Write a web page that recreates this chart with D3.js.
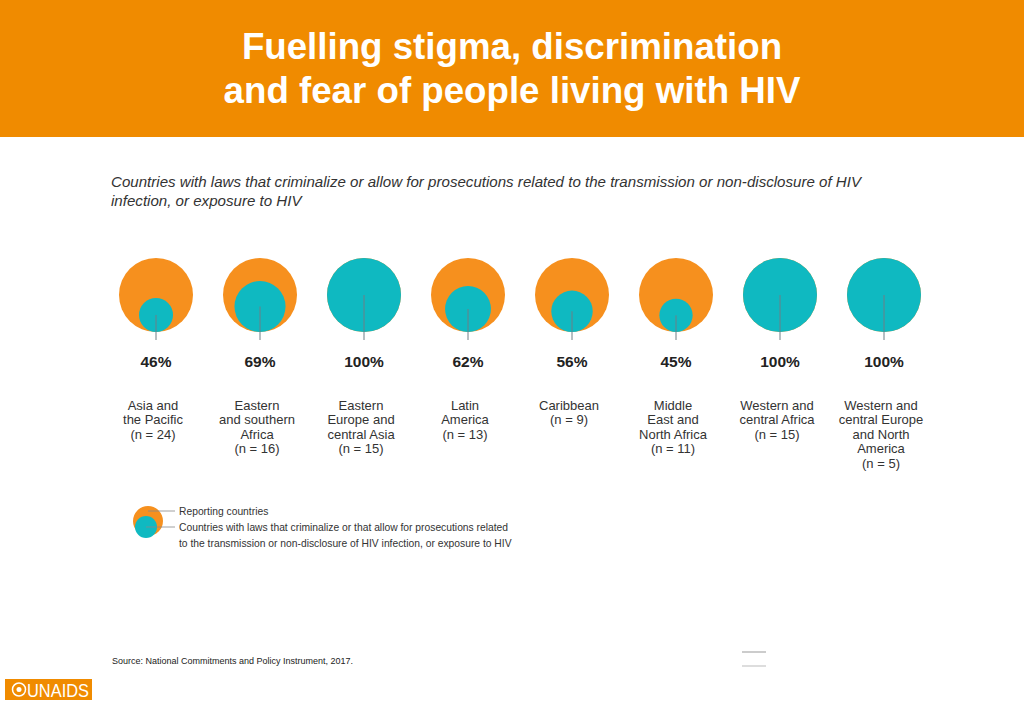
<!DOCTYPE html>
<html>
<head>
<meta charset="utf-8">
<script src="https://cdn.jsdelivr.net/npm/d3@7"></script>
<style>
  html, body { margin: 0; padding: 0; background: #fff; }
  svg { display: block; }
  text { font-family: "Liberation Sans", Arial, sans-serif; }
</style>
</head>
<body>
<svg id="chart" width="1024" height="709"></svg>
<script>
// ---- data ----
const titleLines = ["Fuelling stigma, discrimination", "and fear of people living with HIV"];
const subtitleLines = [
  "Countries with laws that criminalize or allow for prosecutions related to the transmission or non-disclosure of HIV",
  "infection, or exposure to HIV"
];
const regions = [
  ["Asia and", "the Pacific", "(n = 24)"],
  ["Eastern", "and southern", "Africa", "(n = 16)"],
  ["Eastern", "Europe and", "central Asia", "(n = 15)"],
  ["Latin", "America", "(n = 13)"],
  ["Caribbean", "(n = 9)"],
  ["Middle", "East and", "North Africa", "(n = 11)"],
  ["Western and", "central Africa", "(n = 15)"],
  ["Western and", "central Europe", "and North", "America", "(n = 5)"]
];
const regionKeys = ["AP", "ESA", "EECA", "LA", "CAR", "MENA", "WCA", "WCENA"];
const percentages = [46, 69, 100, 62, 56, 45, 100, 100];
const legendLabels = [
  "Reporting countries",
  "Countries with laws that criminalize or that allow for prosecutions related",
  "to the transmission or non-disclosure of HIV infection, or exposure to HIV"
];
const sourceText = "Source: National Commitments and Policy Instrument, 2017.";

// ---- layout ----
const ORANGE_HDR = "#F08B00";
const ORANGE = "#F6901E";
const TEAL = "#0FB9C1";
const TEXT = "#333333";
const R = 37;
const baseY = 332; // bottom of circles

const svg = d3.select("#chart");

// header
svg.append("rect").attr("x", 0).attr("y", 0).attr("width", 1024).attr("height", 137).attr("fill", ORANGE_HDR);
svg.selectAll("text.title").data(titleLines).enter().append("text")
  .attr("class", "title")
  .attr("x", 512).attr("y", (d, i) => 59 + i * 44)
  .attr("text-anchor", "middle")
  .attr("fill", "#fff").attr("font-weight", "bold").attr("font-size", 36.7)
  .text(d => d);

// subtitle
svg.selectAll("text.sub").data(subtitleLines).enter().append("text")
  .attr("class", "sub")
  .attr("x", 111).attr("y", (d, i) => 187 + i * 19)
  .attr("fill", TEXT).attr("font-style", "italic").attr("font-size", 15.1)
  .attr("font-family", "'Liberation Sans Narrow', 'Liberation Sans', Arial, sans-serif")
  .text(d => d);

// scales
const x = d3.scalePoint().domain(regionKeys).range([156, 884]);
const r = d3.scaleLinear().domain([0, 100]).range([0, R]);

const g = svg.selectAll("g.region").data(regionKeys).enter().append("g")
  .attr("class", "region")
  .attr("transform", d => `translate(${x(d)},0)`);

g.append("circle").attr("cx", 0).attr("cy", baseY - R).attr("r", R).attr("fill", ORANGE);
g.append("circle").attr("cx", 0)
  .attr("cy", (d, i) => baseY - r(percentages[i]))
  .attr("r", (d, i) => r(percentages[i]))
  .attr("fill", TEAL);
g.append("line")
  .attr("x1", 0).attr("x2", 0)
  .attr("y1", (d, i) => baseY - r(percentages[i]))
  .attr("y2", 340)
  .attr("stroke", "#6f7f86").attr("stroke-width", 1);

g.append("text").attr("x", 0).attr("y", 366.5)
  .attr("text-anchor", "middle").attr("font-weight", "bold").attr("font-size", 15.5)
  .attr("fill", "#222")
  .text((d, i) => percentages[i] + "%");

g.each(function(d, i) {
  d3.select(this).selectAll("text.lbl").data(regions[i]).enter().append("text")
    .attr("class", "lbl")
    .attr("x", -3).attr("y", (t, j) => 409.5 + j * 14.5)
    .attr("text-anchor", "middle").attr("font-size", 13).attr("fill", TEXT)
    .text(t => t);
});

// legend
const lg = svg.append("g");
lg.append("circle").attr("cx", 148).attr("cy", 521).attr("r", 15).attr("fill", ORANGE);
lg.append("circle").attr("cx", 146).attr("cy", 527).attr("r", 11).attr("fill", TEAL);
lg.append("line").attr("x1", 148).attr("x2", 175).attr("y1", 511).attr("y2", 511).attr("stroke", "#888").attr("stroke-width", 0.8);
lg.append("line").attr("x1", 146).attr("x2", 175).attr("y1", 527).attr("y2", 527).attr("stroke", "#888").attr("stroke-width", 0.8);
lg.selectAll("text").data(legendLabels).enter().append("text")
  .attr("x", 179).attr("y", (d, i) => 515 + i * 16)
  .attr("font-size", 10.3).attr("fill", TEXT)
  .text(d => d);

// source
svg.append("text").attr("x", 112).attr("y", 664).attr("font-size", 9).attr("fill", "#222").text(sourceText);

// small grey lines
svg.append("line").attr("x1", 742).attr("x2", 766).attr("y1", 652).attr("y2", 652).attr("stroke", "#999").attr("stroke-width", 1);
svg.append("line").attr("x1", 742).attr("x2", 766).attr("y1", 666).attr("y2", 666).attr("stroke", "#bbb").attr("stroke-width", 1);

// UNAIDS logo
const logo = svg.append("g");
logo.append("rect").attr("x", 5).attr("y", 679).attr("width", 87).attr("height", 21).attr("fill", ORANGE_HDR);
logo.append("circle").attr("cx", 19).attr("cy", 689.5).attr("r", 6.5).attr("fill", "none").attr("stroke", "#fff").attr("stroke-width", 1.5);
logo.append("circle").attr("cx", 19).attr("cy", 689.5).attr("r", 2.5).attr("fill", "#fff");
logo.append("text").attr("x", 27).attr("y", 696.5).attr("font-size", 18).attr("fill", "#fff")
  .attr("textLength", 62).attr("lengthAdjust", "spacingAndGlyphs").text("UNAIDS");
</script>
</body>
</html>
